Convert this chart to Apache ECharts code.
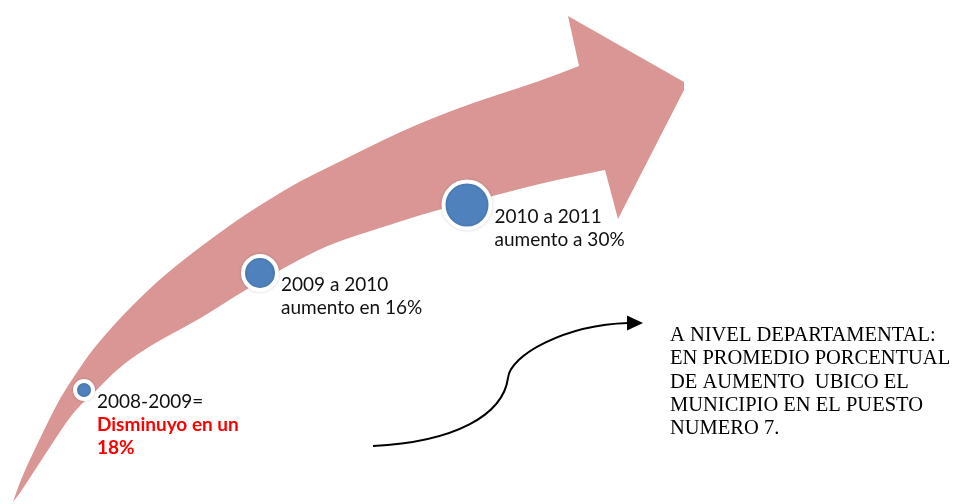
<!DOCTYPE html>
<html>
<head>
<meta charset="utf-8">
<script src="https://cdn.jsdelivr.net/npm/echarts@6/dist/echarts.min.js"></script>
<style>
  html, body { margin: 0; padding: 0; background: #ffffff; }
  #chart { width: 957px; height: 504px; }
</style>
</head>
<body>
<div id="chart"></div>
<script>
// ---- data ----
const periodLabels = ['2008-2009=', '2009 a 2010', '2010 a 2011'];
const changeWords = ['Disminuyo en un', 'aumento en', 'aumento a'];
const changePct = [-18, 16, 30];
const noteLines = [
  'A NIVEL DEPARTAMENTAL:',
  'EN PROMEDIO PORCENTUAL',
  'DE AUMENTO  UBICO EL',
  'MUNICIPIO EN EL PUESTO',
  'NUMERO 7.'
];

// ---- layout (diagram units, mapped through hidden axes) ----
const markerPos = [[84, 390], [260, 273], [467, 205]];
const markerSize = [18, 34, 47];
const arrowTop = [[13,502],[20,481],[33,453],[47,424],[60,398],[75,375],[92,350],[120,318],[145,293],[167,273],[200,247],[240,218],[270,199],[300,181],[333,165],[367,148],[400,132],[433,118],[467,105],[500,94],[540,81],[579,66]];
const arrowHead = [[568,16],[684,82],[684,90],[618,219],[605,170]];
const arrowBottom = [[605,170],[550,181],[493,196],[433,211],[383,227],[333,243],[300,259],[270,276],[240,293],[200,319],[160,340],[133,357],[113,373],[97,390],[80,405],[67,421],[50,447],[33,473],[20,493],[13,502]];
const connectorCurves = [
  [[373,446],[455,442],[503,415],[508,378]],
  [[508,378],[510,355],[565,325],[628,323]]
];
const connectorHead = [[643,323],[627,315.5],[627,330.5]];

function labelText(i) {
  const v = changePct[i];
  if (v < 0) {
    return '{a|' + periodLabels[i] + '}\n{r|' + changeWords[i] + '}\n{r|' + Math.abs(v) + '%}';
  }
  return '{a|' + periodLabels[i] + '}\n{a|' + changeWords[i] + ' ' + v + '%}';
}

function smoothSegment(pts) {
  let d = '';
  for (let i = 1; i < pts.length - 1; i++) {
    const mx = (pts[i][0] + pts[i + 1][0]) / 2, my = (pts[i][1] + pts[i + 1][1]) / 2;
    d += ' Q ' + pts[i][0] + ' ' + pts[i][1] + ' ' + mx + ' ' + my;
  }
  const last = pts[pts.length - 1];
  d += ' L ' + last[0] + ' ' + last[1];
  return d;
}

const chart = echarts.init(document.getElementById('chart'), null, { renderer: 'canvas' });
chart.setOption({
  backgroundColor: '#ffffff',
  animation: false,
  title: {
    text: noteLines.join('\n'),
    left: 670,
    top: 324,
    padding: 0,
    textStyle: {
      fontFamily: 'Liberation Serif',
      fontSize: 20.5,
      fontWeight: 'normal',
      lineHeight: 23.3,
      color: '#000000'
    }
  },
  grid: { left: 0, right: 0, top: 0, bottom: 0 },
  xAxis: { type: 'value', min: 0, max: 957, show: false },
  yAxis: { type: 'value', min: 0, max: 504, inverse: true, show: false },
  series: [
    {
      type: 'custom',
      silent: true,
      z: 1,
      data: [[0, 0]],
      renderItem: function (params, api) {
        const top = arrowTop.map(function (p) { return api.coord(p); });
        const head = arrowHead.map(function (p) { return api.coord(p); });
        const bottom = arrowBottom.map(function (p) { return api.coord(p); });
        let d = 'M ' + top[0][0] + ' ' + top[0][1];
        d += smoothSegment(top);
        head.forEach(function (p) { d += ' L ' + p[0] + ' ' + p[1]; });
        d += smoothSegment(bottom);
        d += ' Z';
        return {
          type: 'path',
          shape: { pathData: d },
          style: { fill: '#D99694' }
        };
      }
    },
    {
      type: 'custom',
      silent: true,
      z: 2,
      data: [[0, 0]],
      renderItem: function (params, api) {
        const children = connectorCurves.map(function (c) {
          const p0 = api.coord(c[0]), p1 = api.coord(c[1]), p2 = api.coord(c[2]), p3 = api.coord(c[3]);
          return {
            type: 'bezierCurve',
            shape: { x1: p0[0], y1: p0[1], cpx1: p1[0], cpy1: p1[1], cpx2: p2[0], cpy2: p2[1], x2: p3[0], y2: p3[1] },
            style: { stroke: '#000000', lineWidth: 2, fill: null }
          };
        });
        children.push({
          type: 'polygon',
          shape: { points: connectorHead.map(function (p) { return api.coord(p); }) },
          style: { fill: '#000000' }
        });
        return { type: 'group', children: children };
      }
    },
    {
      type: 'scatter',
      z: 3,
      data: markerPos.map(function (p, i) {
        return { value: p, symbolSize: markerSize[i] };
      }),
      itemStyle: {
        color: '#4F81BD',
        borderColor: '#ffffff',
        borderWidth: 4,
        shadowBlur: 3,
        shadowColor: 'rgba(0,0,0,0.18)',
        opacity: 1
      },
      label: {
        show: true,
        position: 'right',
        distance: 2,
        align: 'left',
        verticalAlign: 'top',
        formatter: function (p) { return labelText(p.dataIndex); },
        rich: {
          a: { fontFamily: 'Lato', fontSize: 19, color: '#111111', lineHeight: 23 },
          r: { fontFamily: 'Lato', fontSize: 19, fontWeight: 'bold', color: '#FF0000', lineHeight: 23 }
        }
      },
      emphasis: { disabled: true }
    }
  ]
});
</script>
</body>
</html>
